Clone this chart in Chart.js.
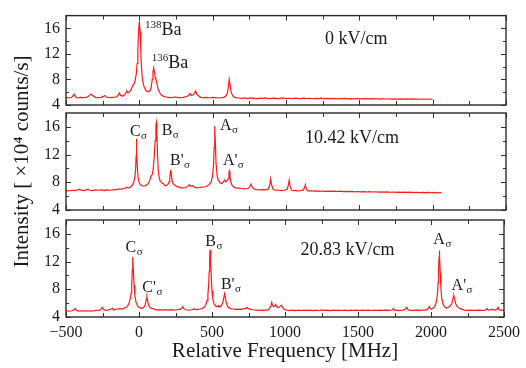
<!DOCTYPE html>
<html>
<head>
<meta charset="utf-8">
<script src="https://cdn.jsdelivr.net/npm/chart.js@4.4.1/dist/chart.umd.min.js"></script>
<style>
  html, body { margin: 0; padding: 0; background: #fff; }
  #wrap { position: relative; width: 526px; height: 368px; }
  canvas { position: absolute; left: 0; top: 0; }
</style>
</head>
<body>
<div id="wrap">
  <canvas id="c0" width="526" height="368"></canvas>
  <canvas id="c1" width="526" height="368"></canvas>
  <canvas id="c2" width="526" height="368"></canvas>
</div>
<script>
// spectra: [relative frequency (MHz), intensity (x10^4 counts/s)]
const spectrum0 = [
  [-500,5.2],[-480,5.1],[-460,5.2],[-445,5.7],[-435,5.3],[-420,5.1],[-400,5.2],[-380,5.15],[-360,5.2],
  [-345,5.4],[-330,5.7],[-315,5.45],[-300,5.2],[-280,5.15],[-260,5.2],[-245,5.35],[-235,5.5],[-225,5.25],
  [-200,5.15],[-180,5.2],[-160,5.25],[-145,5.5],[-136,5.9],[-128,5.5],[-115,5.4],[-100,5.6],[-90,6.0],
  [-85,6.2],[-78,5.9],[-65,6.1],[-55,6.5],[-45,7.0],[-36,7.3],[-28,7.9],[-20,9.0],[-15,10.5],[-10,12.8],
  [-5,15.6],[0,17.1],[5,15.5],[10,12.3],[15,9.8],[20,8.3],[28,7.2],[35,6.7],[45,6.3],[55,6.1],[65,6.1],
  [75,6.3],[82,6.9],[88,8.0],[93,9.2],[98,9.8],[103,9.2],[108,8.3],[113,7.95],[118,7.6],[125,6.8],
  [131,6.2],[136,6.1],[142,5.8],[150,5.55],[165,5.35],[180,5.25],[200,5.2],[220,5.15],[240,5.25],
  [260,5.2],[280,5.15],[300,5.2],[320,5.3],[335,5.5],[345,5.8],[355,5.5],[368,5.6],[376,5.9],[384,6.2],
  [392,5.7],[405,5.4],[420,5.2],[440,5.15],[460,5.2],[480,5.1],[500,5.2],[520,5.15],[540,5.1],[560,5.15],
  [575,5.2],[590,5.4],[600,5.9],[607,6.8],[613,8.0],[619,7.2],[625,6.1],[635,5.5],[650,5.2],[670,5.1],
  [680,5.1],[700,5.05],[720,5.1],[740,5.0],[760,5.1],[780,5.05],[800,5.0],[820,5.08],[840,5.03],[860,5.1],
  [880,5.0],[900,5.05],[920,5.08],[940,5.0],[960,5.05],[980,5.1],[1000,5.02],[1020,5.06],[1040,5.0],
  [1060,5.08],[1080,5.03],[1100,5.0],[1120,5.07],[1140,5.02],[1160,5.05],[1180,4.98],[1200,5.04],
  [1220,5.0],[1240,5.06],[1260,4.98],[1280,5.03],[1300,5.0],[1320,5.05],[1340,4.97],[1360,5.02],
  [1380,5.0],[1400,5.04],[1420,4.97],[1440,5.01],[1460,4.96],[1480,5.02],[1500,4.99],[1520,4.95],
  [1540,5.0],[1560,4.96],[1580,5.01],[1600,4.95],[1620,4.98],[1640,4.93],[1660,4.99],[1680,4.94],
  [1700,4.97],[1720,4.92],[1740,4.97],[1760,4.93],[1780,4.97],[1800,4.92],[1820,4.96],[1840,4.91],
  [1860,4.95],[1880,4.91],[1900,4.94],[1920,4.9],[1940,4.94],[1960,4.9],[1980,4.93],[2000,4.9]
];
const spectrum10 = [
  [-500,6.8],[-480,6.75],[-460,6.85],[-440,6.8],[-420,6.9],[-405,7.0],[-395,6.85],[-380,6.8],[-362,6.9],
  [-350,7.0],[-338,6.85],[-320,6.8],[-300,6.9],[-280,6.85],[-260,6.9],[-240,6.8],[-220,6.9],[-200,6.85],
  [-180,6.9],[-160,6.95],[-140,7.0],[-120,7.05],[-100,7.1],[-86,7.3],[-75,7.15],[-60,7.3],[-48,7.6],
  [-38,8.0],[-30,8.8],[-25,10.0],[-22,11.8],[-20,14.3],[-17,12.5],[-13,10.0],[-8,8.6],[0,7.9],[10,7.6],
  [20,7.5],[30,7.45],[40,7.5],[50,7.6],[60,7.8],[70,8.2],[78,8.8],[84,9.0],[90,9.2],[96,10.3],[102,11.8],
  [108,14.0],[113,16.2],[116,16.6],[120,15.0],[125,11.5],[130,9.5],[136,8.6],[142,8.2],[148,8.1],
  [155,7.9],[165,7.8],[175,7.5],[185,7.5],[195,7.7],[203,8.1],[208,8.7],[212,9.6],[215,9.8],[219,9.0],
  [224,8.2],[230,7.8],[240,7.6],[255,7.4],[270,7.3],[285,7.2],[300,7.2],[315,7.25],[330,7.4],[341,7.65],
  [350,7.45],[364,7.5],[375,7.3],[390,7.2],[410,7.25],[430,7.3],[450,7.35],[465,7.5],[478,7.7],[490,8.1],
  [500,9.0],[506,10.5],[510,13.0],[514,16.1],[518,14.0],[523,10.8],[530,9.0],[538,8.3],[548,8.0],
  [560,7.8],[570,8.0],[578,8.2],[584,8.3],[590,8.1],[598,8.2],[605,8.5],[611,9.4],[614,9.6],[618,8.8],
  [624,8.0],[632,7.6],[645,7.3],[660,7.2],[680,7.15],[700,7.1],[720,7.05],[740,7.1],[752,7.3],[761,7.75],
  [768,7.35],[780,7.05],[800,6.95],[820,6.9],[840,6.95],[860,6.9],[878,7.0],[888,7.5],[895,8.5],[902,7.6],
  [912,7.0],[930,6.85],[950,6.85],[970,6.8],[990,6.85],[1008,7.0],[1016,7.6],[1022,8.3],[1028,7.4],
  [1038,6.85],[1060,6.8],[1080,6.75],[1100,6.8],[1118,6.9],[1126,7.2],[1132,7.65],[1138,7.0],[1150,6.75],
  [1170,6.78],[1190,6.72],[1210,6.76],[1230,6.7],[1250,6.74],[1270,6.69],[1290,6.73],[1310,6.68],
  [1330,6.72],[1350,6.67],[1370,6.71],[1390,6.66],[1410,6.7],[1430,6.64],[1450,6.69],[1470,6.63],
  [1490,6.67],[1510,6.62],[1530,6.66],[1550,6.6],[1570,6.65],[1590,6.6],[1610,6.63],[1630,6.58],
  [1650,6.62],[1670,6.57],[1690,6.61],[1710,6.56],[1730,6.6],[1750,6.55],[1770,6.59],[1790,6.54],
  [1810,6.58],[1830,6.53],[1850,6.57],[1870,6.52],[1890,6.56],[1910,6.5],[1930,6.55],[1950,6.5],
  [1970,6.54],[1990,6.49],[2010,6.53],[2030,6.48],[2050,6.52],[2060,6.5]
];
const spectrum20 = [
  [-500,4.9],[-480,4.85],[-460,4.9],[-445,5.05],[-437,5.2],[-428,4.95],[-410,4.85],[-390,4.9],[-370,4.85],
  [-350,4.9],[-330,4.85],[-310,4.9],[-290,4.95],[-270,5.0],[-258,5.2],[-252,5.4],[-244,5.1],[-230,4.95],
  [-215,5.0],[-200,5.1],[-190,5.15],[-182,5.25],[-174,5.0],[-160,5.1],[-145,5.15],[-130,5.2],[-115,5.15],
  [-100,5.3],[-88,5.4],[-78,5.6],[-68,6.0],[-60,6.6],[-54,7.5],[-50,8.6],[-46,10.8],[-43,12.65],[-39,11.0],
  [-34,8.6],[-28,7.0],[-20,6.1],[-10,5.6],[0,5.4],[15,5.25],[30,5.35],[40,5.6],[46,6.1],[50,6.6],[54,6.9],
  [58,6.5],[63,5.9],[70,5.5],[80,5.3],[95,5.2],[110,5.1],[125,5.0],[140,5.05],[160,5.0],[180,5.05],
  [200,5.0],[220,5.05],[240,5.0],[260,5.05],[280,5.1],[292,5.25],[300,5.5],[308,5.2],[320,5.05],
  [340,5.0],[360,5.05],[372,5.1],[380,5.2],[388,5.05],[405,5.1],[420,5.15],[435,5.25],[448,5.45],
  [458,5.8],[466,6.4],[472,7.3],[477,8.6],[481,10.6],[484,12.6],[487,13.7],[491,12.2],[495,9.8],[500,7.8],
  [506,6.5],[514,5.9],[524,5.6],[534,5.5],[540,5.5],[545,5.65],[550,5.45],[558,5.5],[566,5.7],[574,6.1],
  [580,6.7],[586,7.35],[591,6.9],[597,6.1],[605,5.6],[615,5.35],[630,5.2],[645,5.15],[660,5.1],[680,5.15],
  [700,5.1],[720,5.2],[733,5.25],[741,5.35],[750,5.2],[765,5.1],[780,5.05],[800,5.0],[820,5.0],[840,4.95],
  [860,5.0],[880,5.0],[895,5.2],[903,5.6],[909,6.1],[915,5.7],[922,5.5],[930,5.6],[936,5.8],[942,5.5],
  [952,5.35],[962,5.45],[970,5.6],[975,5.7],[982,5.45],[992,5.15],[1010,5.0],[1030,4.95],[1050,5.0],
  [1070,4.93],[1090,4.98],[1110,4.94],[1130,5.0],[1150,4.95],[1170,4.99],[1190,4.93],[1210,4.98],
  [1230,4.94],[1250,5.02],[1270,4.95],[1290,4.99],[1310,4.93],[1330,4.98],[1350,4.95],[1370,5.0],
  [1390,4.94],[1410,4.98],[1430,4.93],[1450,4.99],[1470,4.95],[1490,5.0],[1510,4.94],[1530,4.98],
  [1550,4.95],[1570,5.0],[1590,4.94],[1610,4.99],[1630,4.95],[1650,5.0],[1670,4.96],[1690,5.0],
  [1710,4.97],[1725,5.0],[1735,5.05],[1743,5.2],[1750,5.0],[1770,4.95],[1790,4.95],[1810,5.0],
  [1826,5.15],[1834,5.4],[1842,5.05],[1860,4.95],[1880,4.95],[1900,5.0],[1920,4.95],[1940,5.0],
  [1960,5.0],[1975,5.1],[1983,5.3],[1989,5.5],[1995,5.2],[2005,5.15],[2015,5.3],[2025,5.5],[2033,5.9],
  [2040,6.6],[2045,7.6],[2049,9.0],[2052,10.8],[2055,12.6],[2057,13.6],[2060,12.8],[2064,10.2],
  [2068,8.0],[2074,6.6],[2082,5.9],[2092,5.5],[2105,5.3],[2120,5.4],[2132,5.6],[2142,5.9],[2148,6.4],
  [2153,6.9],[2157,7.05],[2162,6.6],[2168,6.0],[2176,5.6],[2188,5.35],[2200,5.2],[2215,5.1],[2230,5.0],
  [2250,4.95],[2270,5.0],[2290,4.95],[2310,4.95],[2330,5.0],[2350,4.95],[2370,5.0],[2380,5.1],
  [2386,5.2],[2392,5.0],[2405,5.05],[2420,5.1],[2435,5.0],[2450,5.1],[2459,5.4],[2466,5.05],
  [2480,4.95],[2500,5.0]
];

const fieldLabels = ['0 kV/cm', '10.42 kV/cm', '20.83 kV/cm'];
const yTickLabels = [4, 8, 12, 16];
const yMinorTicks = [6, 10, 14];
const xTickLabels = [-500, 0, 500, 1000, 1500, 2000, 2500];
const xMinorTicks = [-250, 250, 750, 1250, 1750, 2250];

// peak labels, anchored at (MHz, intensity)
const peaks0 = [
  { x: 38, y: 14.9, sup: '138', main: 'Ba' },
  { x: 84, y: 9.75, sup: '136', main: 'Ba' }
];
const peaks10 = [
  { x: -64, y: 14.7, main: 'C', sub: true },
  { x: 152, y: 14.8, main: 'B', sub: true },
  { x: 209, y: 10.55, main: "B'", sub: true },
  { x: 550, y: 15.55, main: 'A', sub: true },
  { x: 570, y: 10.55, main: "A'", sub: true }
];
const peaks20 = [
  { x: -92, y: 13.35, main: 'C', sub: true },
  { x: 23, y: 7.6, main: "C'", sub: true },
  { x: 454, y: 14.3, main: 'B', sub: true },
  { x: 561, y: 8.0, main: "B'", sub: true },
  { x: 2016, y: 14.55, main: 'A', sub: true },
  { x: 2141, y: 7.85, main: "A'", sub: true }
];

const FONT = '"Liberation Serif", "Times New Roman", serif';
const INK = '#1a1a1a';

const framePlugin = {
  id: 'frame',
  afterDraw(chart) {
    const { ctx, chartArea: a, scales: { x, y } } = chart;
    ctx.save();
    ctx.strokeStyle = '#333';
    ctx.lineWidth = 1;
    ctx.beginPath();
    const tick = (px, len, vert) => {
      if (vert) {
        ctx.moveTo(px, a.bottom); ctx.lineTo(px, a.bottom - len);
        ctx.moveTo(px, a.top); ctx.lineTo(px, a.top + len);
      } else {
        ctx.moveTo(a.left, px); ctx.lineTo(a.left + len, px);
        ctx.moveTo(a.right, px); ctx.lineTo(a.right - len, px);
      }
    };
    xTickLabels.forEach(v => tick(Math.round(x.getPixelForValue(v)) + 0.5, 5, true));
    xMinorTicks.forEach(v => tick(Math.round(x.getPixelForValue(v)) + 0.5, 4, true));
    yTickLabels.forEach(v => tick(Math.round(y.getPixelForValue(v)) + 0.5, 5, false));
    yMinorTicks.forEach(v => tick(Math.round(y.getPixelForValue(v)) + 0.5, 3, false));
    ctx.stroke();
    ctx.lineWidth = 1.4;
    ctx.strokeStyle = '#2a2a2a';
    ctx.strokeRect(a.left, a.top, a.width, a.height);
    ctx.restore();
  }
};

const labelPlugin = {
  id: 'peakLabels',
  afterDatasetsDraw(chart, args, opts) {
    const { ctx, scales: { x, y } } = chart;
    ctx.save();
    ctx.fillStyle = INK;
    ctx.textBaseline = 'alphabetic';
    ctx.textAlign = 'left';
    opts.peaks.forEach(p => {
      let cx = x.getPixelForValue(p.x);
      const cy = y.getPixelForValue(p.y);
      if (p.sup) {
        ctx.font = '11px ' + FONT;
        ctx.fillText(p.sup, cx, cy - 7);
        cx += ctx.measureText(p.sup).width;
        ctx.font = '18px ' + FONT;
      } else {
        ctx.font = '16px ' + FONT;
      }
      ctx.fillText(p.main, cx, cy);
      cx += ctx.measureText(p.main).width;
      if (p.sub) {
        ctx.font = '11px ' + FONT;
        ctx.fillText('σ', cx + 0.5, cy + 3);
      }
    });
    ctx.font = '18px ' + FONT;
    ctx.fillText(opts.field.text, x.getPixelForValue(opts.field.x), y.getPixelForValue(opts.field.y));
    ctx.restore();
  }
};

function makePanel(id, spectrum, top, bottom, showX, peaks, field, showYTitle) {
  new Chart(document.getElementById(id), {
    type: 'line',
    data: {
      datasets: [{
        data: spectrum.map(p => ({ x: p[0], y: p[1] })),
        borderColor: '#ff1a1a',
        borderWidth: 1.2,
        pointRadius: 0,
        tension: 0,
        fill: false
      }]
    },
    options: {
      responsive: false,
      animation: false,
      events: [],
      layout: { padding: { left: 0, right: 20, top: top, bottom: showX ? 0 : 368 - bottom } },
      plugins: {
        legend: { display: false },
        tooltip: { enabled: false },
        peakLabels: { peaks: peaks, field: field }
      },
      scales: {
        x: {
          type: 'linear',
          min: -500,
          max: 2500,
          display: showX,
          afterFit: s => { s.height = showX ? 368 - bottom : 0; },
          afterBuildTicks: s => { s.ticks = xTickLabels.map(v => ({ value: v })); },
          grid: { display: false, drawTicks: false },
          border: { display: false },
          ticks: {
            color: INK,
            font: { family: FONT, size: 16 },
            padding: 6,
            maxRotation: 0,
            autoSkip: false,
            callback: v => (v < 0 ? '\u2212' + Math.abs(v) : String(v))
          },
          title: {
            display: true,
            text: 'Relative Frequency [MHz]',
            color: INK,
            font: { family: FONT, size: 21 },
            padding: { top: 0, bottom: 4 }
          }
        },
        y: {
          min: 4,
          max: 18,
          afterFit: s => { s.width = 66; },
          afterBuildTicks: s => { s.ticks = yTickLabels.map(v => ({ value: v })); },
          grid: { display: false, drawTicks: false },
          border: { display: false },
          ticks: { color: INK, font: { family: FONT, size: 16 }, padding: 6 },
          title: {
            display: showYTitle,
            text: 'Intensity [ \u00d710\u2074 counts/s]',
            color: INK,
            font: { family: FONT, size: 21 },
            padding: { top: 10, bottom: 0 }
          }
        }
      }
    },
    plugins: [framePlugin, labelPlugin]
  });
}

makePanel('c0', spectrum0, 8, 105, false, peaks0, { text: fieldLabels[0], x: 1266, y: 13.5 }, false);
makePanel('c1', spectrum10, 113, 210, false, peaks10, { text: fieldLabels[1], x: 1130, y: 13.7 }, true);
makePanel('c2', spectrum20, 220, 317, true, peaks20, { text: fieldLabels[2], x: 1107, y: 13.0 }, false);
</script>
</body>
</html>
